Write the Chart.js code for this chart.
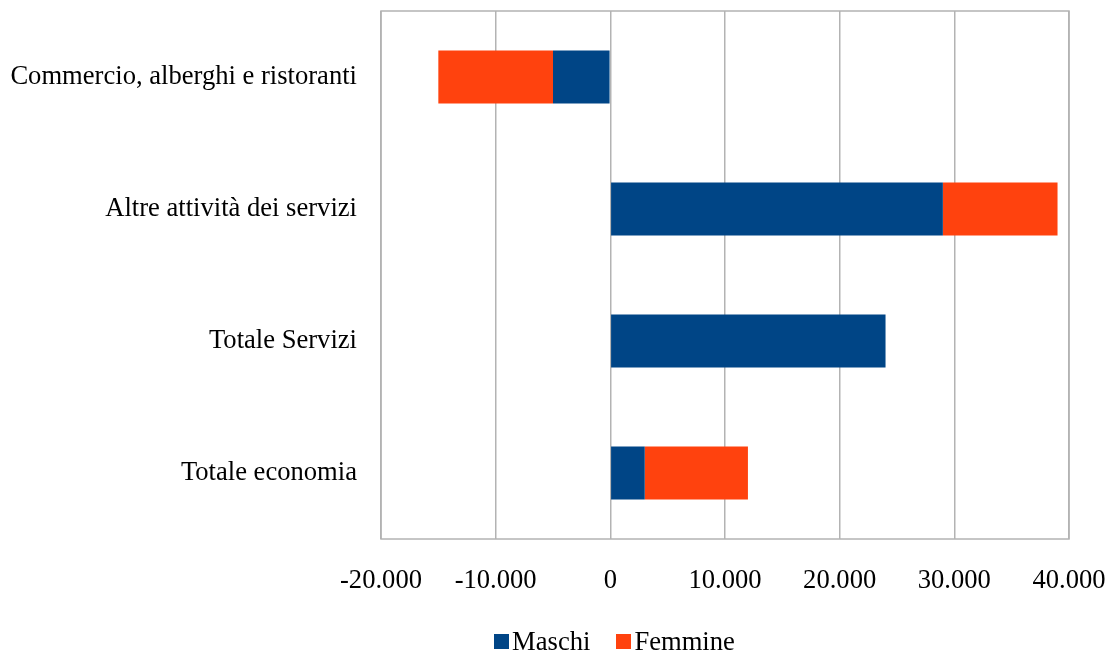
<!DOCTYPE html>
<html>
<head>
<meta charset="utf-8">
<script src="https://cdn.jsdelivr.net/npm/chart.js@4"></script>
<style>
  html, body { margin: 0; padding: 0; background: #fff; }
  #wrap { position: relative; width: 1107px; height: 653px; }
  #legend {
    position: absolute; left: 0; right: 0; top: 626px;
    display: flex; justify-content: center; align-items: center;
    font-family: 'Liberation Serif', serif; font-size: 26.6px; color: #000;
    padding-left: 122px;
  }
  #legend span.item { display: flex; align-items: center; margin: 0 13px; }
  #legend i { display: inline-block; width: 15px; height: 15px; margin-right: 3px; }
</style>
</head>
<body>
<div id="wrap">
  <canvas id="chart"></canvas>
  <div id="legend"></div>
</div>
<script>
// data
const categories = ['Commercio, alberghi e ristoranti', 'Altre attività dei servizi', 'Totale Servizi', 'Totale economia'];
const maschi = [-5000, 29000, 24000, 3000];
const femmine = [-10000, 10000, 0, 9000];
const xMin = -20000;
const xMax = 40000;
const xStep = 10000;

const FONT = 'Liberation Serif';

// thousands with a dot, italian style
function fmt(v) {
  const s = String(Math.abs(v)).replace(/\B(?=(\d{3})+(?!\d))/g, '.');
  return (v < 0 ? '-' : '') + s;
}

// frame around the plot area
const frame = {
  id: 'frame',
  afterDatasetsDraw(chart) {
    const a = chart.chartArea;
    const ctx = chart.ctx;
    ctx.save();
    ctx.strokeStyle = '#b3b3b3';
    ctx.lineWidth = 1.5;
    ctx.strokeRect(a.left, a.top, a.right - a.left, a.bottom - a.top);
    ctx.restore();
  }
};

const chart = new Chart(document.getElementById('chart'), {
  type: 'bar',
  data: {
    labels: categories,
    datasets: [
      { label: 'Maschi', data: maschi, backgroundColor: '#004586', barPercentage: 0.4, categoryPercentage: 1 },
      { label: 'Femmine', data: femmine, backgroundColor: '#ff420e', barPercentage: 0.4, categoryPercentage: 1 }
    ]
  },
  options: {
    indexAxis: 'y',
    responsive: true,
    maintainAspectRatio: false,
    animation: false,
    layout: { padding: { top: 11, right: 38, left: 0, bottom: 0 } },
    scales: {
      x: {
        stacked: true,
        min: xMin,
        max: xMax,
        ticks: {
          stepSize: xStep,
          color: '#000',
          padding: 26,
          maxRotation: 0,
          font: { family: FONT, size: 26.6 },
          callback: v => fmt(v)
        },
        grid: { color: '#b3b3b3', lineWidth: 1.5, drawTicks: false },
        border: { display: false },
        afterFit: s => {
          s.height = 114;
          s.paddingLeft = 0;
          s.paddingRight = 0;
        }
      },
      y: {
        stacked: true,
        ticks: {
          color: '#000',
          padding: 24,
          font: { family: FONT, size: 26.6 }
        },
        grid: { display: false, drawTicks: false },
        border: { display: false },
        afterFit: s => {
          s.width = 381;
          s.paddingTop = 0;
          s.paddingBottom = 0;
        }
      }
    },
    plugins: {
      legend: { display: false },
      tooltip: { enabled: false }
    }
  },
  plugins: [frame]
});

// legend below the chart, built from the datasets
const legend = document.getElementById('legend');
chart.data.datasets.forEach(ds => {
  const item = document.createElement('span');
  item.className = 'item';
  item.innerHTML = `<i style="background:${ds.backgroundColor}"></i>${ds.label}`;
  legend.appendChild(item);
});
</script>
</body>
</html>
